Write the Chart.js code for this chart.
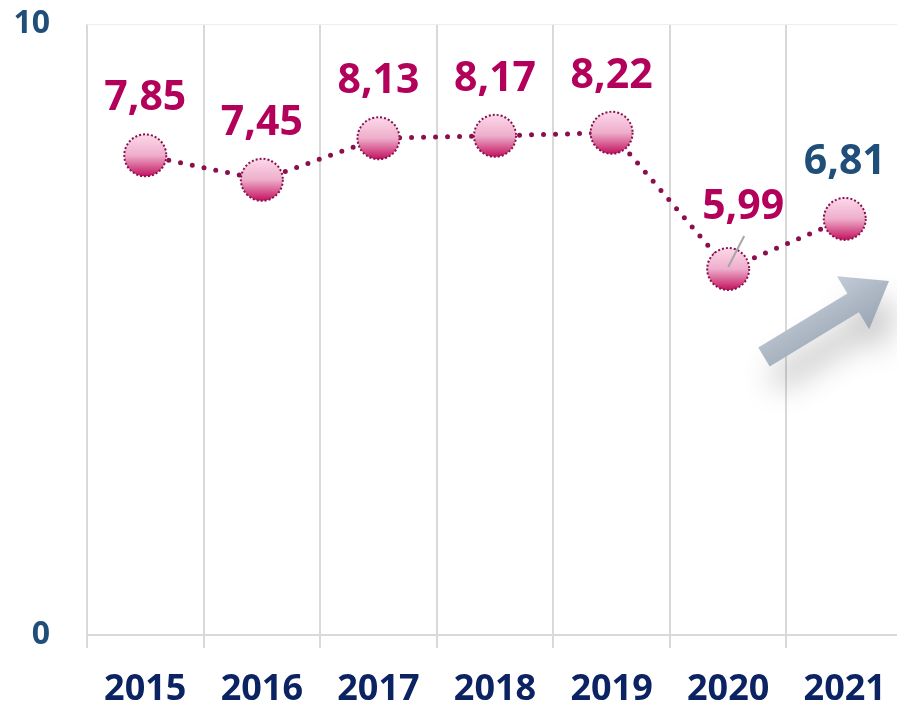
<!DOCTYPE html>
<html><head><meta charset="utf-8">
<script src="https://cdn.jsdelivr.net/npm/chart.js@4"></script>
<style>
html,body{margin:0;padding:0;overflow:hidden;background:#fff;width:897px;height:708px}
#wrap{width:906px;height:708px;position:relative}
</style>
</head><body><div id="wrap"><canvas id="c" width="906" height="708"></canvas></div>
<script>
const categories = ['2015','2016','2017','2018','2019','2020','2021'];
const values = [7.85, 7.45, 8.13, 8.17, 8.22, 5.99, 6.81];
const valueLabels = ['7,85','7,45','8,13','8,17','8,22','5,99','6,81'];
const yTickValues = [0, 10];

const MAGENTA = '#b3005a';
const NAVY = '#1f4e79';
const YEAR = '#0c2363';
const R = 21;

function markerFill(ctx){
  const c = ctx.chart;
  const ys = c.scales && c.scales.y;
  if (!ys || ctx.type !== 'data') return '#e8a0c0';
  const y = ys.getPixelForValue(ctx.raw);
  if (!isFinite(y)) return '#e8a0c0';
  const g = c.ctx.createLinearGradient(0, y - R, 0, y + R);
  g.addColorStop(0, '#fcd8ea');
  g.addColorStop(0.5, '#eeaecb');
  g.addColorStop(1, '#c3125f');
  return g;
}

const arrowPlugin = {
  id: 'arrow',
  beforeDatasetsDraw(chart){
    const ctx = chart.ctx;
    const T = {x:764, y:357}, P = {x:889, y:281};
    const dx = P.x - T.x, dy = P.y - T.y, L = Math.hypot(dx, dy);
    const u = {x:dx/L, y:dy/L}, n = {x:-u.y, y:u.x};
    const hw = 11, hh = 31, hl = 42;
    const B = {x:P.x - hl*u.x, y:P.y - hl*u.y};
    const pts = [
      [T.x + hw*n.x, T.y + hw*n.y],
      [B.x + hw*n.x, B.y + hw*n.y],
      [B.x + hh*n.x, B.y + hh*n.y],
      [P.x, P.y],
      [B.x - hh*n.x, B.y - hh*n.y],
      [B.x - hw*n.x, B.y - hw*n.y],
      [T.x - hw*n.x, T.y - hw*n.y]
    ];
    ctx.save();
    ctx.shadowColor = 'rgba(0,0,0,0.22)';
    ctx.shadowBlur = 30;
    ctx.shadowOffsetX = 10;
    ctx.shadowOffsetY = 24;
    const g = ctx.createLinearGradient(T.x - hh*n.x, T.y - hh*n.y, T.x + hh*n.x, T.y + hh*n.y);
    g.addColorStop(0, '#c3ccd7');
    g.addColorStop(0.5, '#aeb8c5');
    g.addColorStop(1, '#9aa6b5');
    ctx.fillStyle = g;
    ctx.beginPath();
    pts.forEach((p,i)=> i ? ctx.lineTo(p[0],p[1]) : ctx.moveTo(p[0],p[1]));
    ctx.closePath();
    ctx.fill();
    ctx.restore();
  }
};

const markerPlugin = {
  id: 'markers',
  afterDatasetsDraw(chart){
    const ctx = chart.ctx;
    const meta = chart.getDatasetMeta(0);
    ctx.save();
    ctx.strokeStyle = '#8b0f4e';
    ctx.lineWidth = 2;
    ctx.setLineDash([2, 2]);
    meta.data.forEach(pt => {
      ctx.beginPath();
      ctx.arc(pt.x, pt.y, R, 0, Math.PI*2);
      ctx.stroke();
    });
    ctx.setLineDash([]);
    const p5 = meta.data[5];
    ctx.strokeStyle = '#a6a6a6';
    ctx.lineWidth = 2;
    ctx.beginPath();
    ctx.moveTo(p5.x, p5.y - 2);
    ctx.lineTo(p5.x + 16, p5.y - 33);
    ctx.stroke();
    ctx.font = 'bold 41px "Open Sans"';
    ctx.textAlign = 'center';
    ctx.textBaseline = 'alphabetic';
    meta.data.forEach((pt, i) => {
      let ox = 0, oy = 45;
      if (i === 5) { ox = 15; oy = 50; }
      ctx.fillStyle = i === 6 ? NAVY : MAGENTA;
      ctx.fillText(valueLabels[i], pt.x + ox, pt.y - oy);
    });
    ctx.restore();
  }
};

new Chart(document.getElementById('c'), {
  type: 'line',
  data: {
    labels: categories,
    datasets: [{
      data: values,
      borderColor: '#8b0f4e',
      borderWidth: 5,
      borderDash: [0, 12],
      borderCapStyle: 'round',
      tension: 0,
      fill: false,
      clip: false,
      pointRadius: R,
      pointHoverRadius: R,
      pointBorderWidth: 0,
      pointBackgroundColor: markerFill
    }]
  },
  options: {
    responsive: false,
    animation: false,
    devicePixelRatio: 1,
    events: [],
    layout: { autoPadding: false, padding: { top: 24, right: 1, left: 0, bottom: 0 } },
    plugins: { legend: { display: false }, tooltip: { enabled: false } },
    scales: {
      x: {
        type: 'category',
        offset: true,
        grid: { offset: true, color: '#d9d9d9', lineWidth: 2, drawTicks: true, tickLength: 13, tickColor: '#d9d9d9' },
        border: { display: true, color: '#d9d9d9', width: 2 },
        ticks: { color: YEAR, font: { family: 'Open Sans', weight: 'bold', size: 36 }, padding: 20, maxRotation: 0, autoSkip: false },
        afterFit(s){ s.height = 73; }
      },
      y: {
        min: 0, max: 10,
        afterBuildTicks(s){ s.ticks = yTickValues.map(v => ({ value: v })); },
        grid: { drawTicks: true, tickLength: 37, tickColor: 'rgba(0,0,0,0)', lineWidth: 1, color: c => c.tick && c.tick.value === 10 ? '#eeeeee' : 'rgba(0,0,0,0)' },
        border: { display: false },
        ticks: { color: NAVY, font: { family: 'Open Sans', weight: 'bold', size: 32 }, padding: 0 },
        afterFit(s){ s.width = 87; }
      }
    }
  },
  plugins: [arrowPlugin, markerPlugin]
});
</script>
</body></html>
